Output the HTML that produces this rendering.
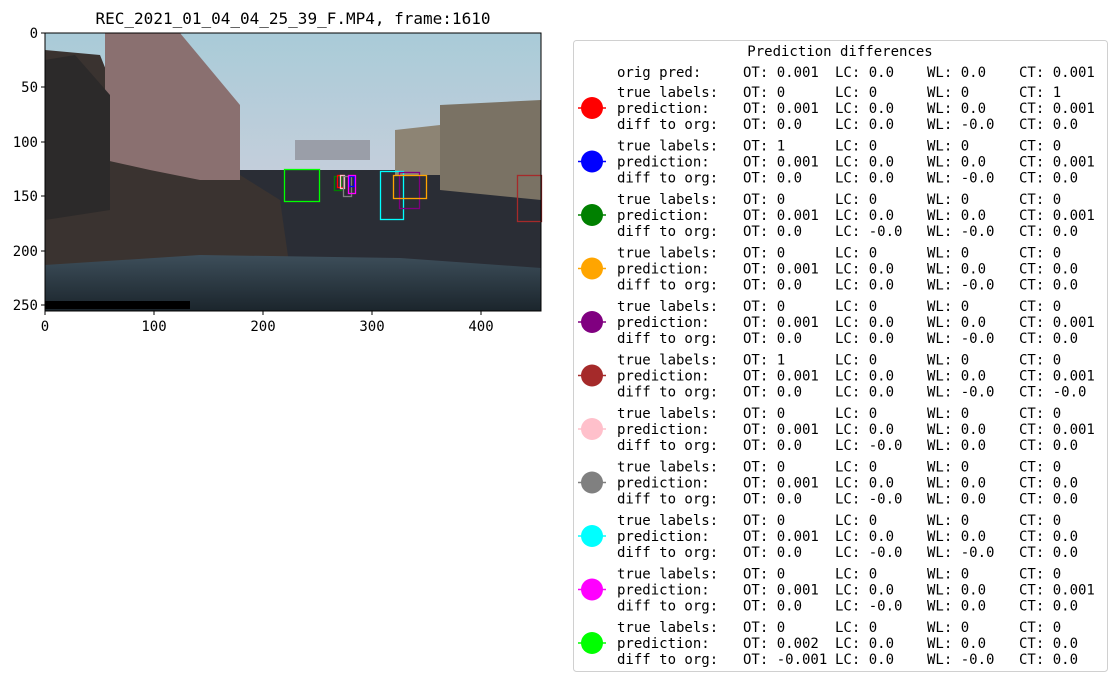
<!DOCTYPE html>
<html><head><meta charset="utf-8"><style>
html,body{margin:0;padding:0;background:#fff;}
svg{display:block;font-family:"DejaVu Sans Mono","Liberation Mono",monospace;}
</style></head><body>
<svg width="1118" height="682" viewBox="0 0 1118 682" xmlns="http://www.w3.org/2000/svg">
<defs>
<linearGradient id="sky" x1="0" y1="0" x2="0" y2="1">
<stop offset="0" stop-color="#a9cbd8"/><stop offset="0.6" stop-color="#c9cfdc"/><stop offset="1" stop-color="#d6c6d2"/>
</linearGradient>
<linearGradient id="hood" x1="0" y1="0" x2="0" y2="1">
<stop offset="0" stop-color="#3d4e5a"/><stop offset="1" stop-color="#1b252c"/>
</linearGradient>
</defs>
<text x="293" y="24" font-size="16" text-anchor="middle" fill="#000">REC_2021_01_04_04_25_39_F.MP4, frame:1610</text>
<g>
<rect x="45" y="33" width="496" height="278" fill="url(#sky)"/>
<rect x="45" y="170" width="496" height="100" fill="#2a2d35"/>
<polygon points="45,50 100,55 110,80 170,90 230,130 240,175 280,200 290,270 45,270" fill="#3a3330"/>
<polygon points="105,33 180,33 240,105 240,180 200,180 150,170 105,160" fill="#8a7070"/>
<polygon points="45,60 75,55 110,95 110,210 45,220" fill="#2c2a2a"/>
<polygon points="440,105 541,100 541,200 440,190" fill="#7a7264"/>
<polygon points="395,130 440,125 440,175 395,175" fill="#8d8474"/>
<rect x="295" y="140" width="75" height="20" fill="#9a9ea8"/>
<polygon points="45,265 200,255 400,258 541,268 541,311 45,311" fill="url(#hood)"/>
<rect x="45" y="301" width="145" height="8" fill="#000"/>
<rect x="284.5" y="169.5" width="35" height="32" fill="none" stroke="#00ff00" stroke-width="1.3"/>
<rect x="334.5" y="176.5" width="7" height="14" fill="none" stroke="#008000" stroke-width="1.3"/>
<rect x="337.5" y="175.5" width="6" height="12" fill="none" stroke="#ff0000" stroke-width="1.3"/>
<rect x="340.5" y="175.5" width="4" height="13" fill="none" stroke="#ffc0cb" stroke-width="1.3"/>
<rect x="343.5" y="176.5" width="8" height="20" fill="none" stroke="#808080" stroke-width="1.3"/>
<rect x="349.5" y="176.5" width="5" height="10" fill="none" stroke="#0000ff" stroke-width="1.3"/>
<rect x="348.5" y="175.5" width="7" height="18" fill="none" stroke="#ff00ff" stroke-width="1.3"/>
<rect x="380.5" y="171.5" width="23" height="48" fill="none" stroke="#00ffff" stroke-width="1.3"/>
<rect x="399.5" y="172.5" width="20" height="36" fill="none" stroke="#800080" stroke-width="1.3"/>
<rect x="393.5" y="175.5" width="33" height="23" fill="none" stroke="#ffa500" stroke-width="1.3"/>
<rect x="517.5" y="175.5" width="24" height="46" fill="none" stroke="#a52a2a" stroke-width="1.3"/>
<rect x="45" y="33" width="496" height="278" fill="none" stroke="#000" stroke-width="1"/>
</g>
<g stroke="#000" stroke-width="1">
<line x1="45" y1="311" x2="45" y2="315"/><line x1="154" y1="311" x2="154" y2="315"/><line x1="263" y1="311" x2="263" y2="315"/><line x1="372" y1="311" x2="372" y2="315"/><line x1="481" y1="311" x2="481" y2="315"/>
<line x1="41" y1="33" x2="45" y2="33"/><line x1="41" y1="87" x2="45" y2="87"/><line x1="41" y1="142" x2="45" y2="142"/><line x1="41" y1="196" x2="45" y2="196"/><line x1="41" y1="251" x2="45" y2="251"/><line x1="41" y1="305" x2="45" y2="305"/>
</g>
<g font-size="14" fill="#000">
<text x="45" y="331" text-anchor="middle">0</text><text x="154" y="331" text-anchor="middle">100</text><text x="263" y="331" text-anchor="middle">200</text><text x="372" y="331" text-anchor="middle">300</text><text x="481" y="331" text-anchor="middle">400</text>
<g text-anchor="end"><text x="38" y="38">0</text><text x="38" y="92">50</text><text x="38" y="147">100</text><text x="38" y="201">150</text><text x="38" y="256">200</text><text x="38" y="310">250</text></g>
</g>
<rect x="573.5" y="40.5" width="534" height="631" rx="3" fill="#fff" stroke="#d0d0d0"/>
<g font-size="14" fill="#000">
<text x="840" y="56" text-anchor="middle">Prediction differences</text>
<text y="77"><tspan x="617">orig pred:</tspan><tspan x="743">OT: 0.001</tspan><tspan x="835">LC: 0.0</tspan><tspan x="927">WL: 0.0</tspan><tspan x="1019">CT: 0.001</tspan></text>
</g>
<g id="L" font-size="14" fill="#000"></g>
</svg>
<script>
var NS="http://www.w3.org/2000/svg";
var d=[["#ff0000","0 0 0 1","0.001 0.0 0.0 0.001","0.0 0.0 -0.0 0.0"],
["#0000ff","1 0 0 0","0.001 0.0 0.0 0.001","0.0 0.0 -0.0 0.0"],
["#008000","0 0 0 0","0.001 0.0 0.0 0.001","0.0 -0.0 -0.0 0.0"],
["#ffa500","0 0 0 0","0.001 0.0 0.0 0.0","0.0 0.0 -0.0 0.0"],
["#800080","0 0 0 0","0.001 0.0 0.0 0.001","0.0 0.0 -0.0 0.0"],
["#a52a2a","1 0 0 0","0.001 0.0 0.0 0.001","0.0 0.0 -0.0 -0.0"],
["#ffc0cb","0 0 0 0","0.001 0.0 0.0 0.001","0.0 -0.0 0.0 0.0"],
["#808080","0 0 0 0","0.001 0.0 0.0 0.0","0.0 -0.0 0.0 0.0"],
["#00ffff","0 0 0 0","0.001 0.0 0.0 0.0","0.0 -0.0 -0.0 0.0"],
["#ff00ff","0 0 0 0","0.001 0.0 0.0 0.001","0.0 -0.0 0.0 0.0"],
["#00ff00","0 0 0 0","0.002 0.0 0.0 0.0","-0.001 0.0 -0.0 0.0"]];
var g=document.getElementById("L");
function el(n,a,t){var e=document.createElementNS(NS,n);for(var k in a)e.setAttribute(k,a[k]);if(t!==undefined)e.textContent=t;return e;}
var names=["true labels:","prediction:","diff to org:"],ks=["OT: ","LC: ","WL: ","CT: "],xs=[743,835,927,1019];
for(var i=0;i!==d.length;i++){var c=92+53.5*i;
g.appendChild(el("line",{x1:578,y1:c+16,x2:606,y2:c+16,stroke:d[i][0],"stroke-width":1.5}));
g.appendChild(el("circle",{cx:592,cy:c+16,r:11,fill:d[i][0]}));
for(var r=0;r!==3;r++){var y=c+16*r+5,v=d[i][r+1].split(" ");
g.appendChild(el("text",{x:617,y:y},names[r]));
for(var j=0;j!==4;j++)g.appendChild(el("text",{x:xs[j],y:y},ks[j]+v[j]));}}
</script>
</body></html>
